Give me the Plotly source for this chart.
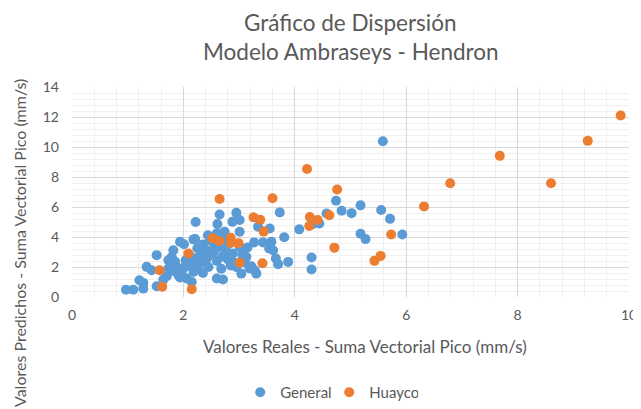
import plotly.graph_objects as go

# ---- data ----
general_x = [5.58, 5.18, 5.02, 5.55, 5.71, 5.18, 5.27, 5.93,
             4.74, 4.84, 4.57, 4.44, 4.32, 4.08, 4.30, 4.30,
             3.73, 3.81, 3.34, 3.55, 3.58, 3.61, 3.66, 3.70, 3.88,
             3.27, 3.43, 3.54, 3.08, 3.28, 3.19, 3.04, 3.31, 3.22, 3.06, 3.13,
             3.01, 3.01, 2.95, 2.88, 2.65, 2.61, 2.22, 2.74, 2.21, 2.60, 2.44, 2.48, 3.01,
             2.68, 2.60, 2.71, 2.89, 2.53, 2.42, 2.33, 2.18, 2.06, 2.15, 1.91, 1.94, 1.82,
             2.30, 2.42, 2.65, 2.77, 2.89,
             0.97, 1.10, 1.28, 1.21, 1.28, 1.34, 1.43, 1.52, 1.52, 1.64, 1.70, 1.79, 1.73,
             1.79, 1.94, 1.97, 1.94, 2.03, 2.04, 2.15, 2.01, 2.18, 1.82, 1.85, 1.73, 2.18,
             2.25, 2.35, 2.45, 2.55, 2.70, 2.80, 2.85, 2.95, 2.25, 2.35, 2.45, 2.10, 2.25,
             2.35, 2.55, 2.70, 2.80, 3.10, 3.15, 2.60]
general_y = [10.38, 6.11, 5.59, 5.80, 5.21, 4.22, 3.86, 4.17,
             6.42, 5.75, 5.57, 4.90, 4.86, 4.51, 2.63, 1.83,
             5.64, 3.98, 4.68, 4.57, 3.68, 3.12, 2.57, 2.19, 2.34,
             3.64, 3.64, 3.23, 3.01, 1.78, 1.90, 1.56, 1.56, 2.05, 2.79, 2.67,
             4.35, 5.13, 5.61, 5.01, 5.50, 4.86, 5.00, 4.35, 3.86, 4.24, 4.12, 3.79, 3.34,
             1.88, 1.23, 1.17, 2.34, 2.94, 3.12, 2.90, 2.34, 1.23, 1.00, 1.45, 1.90, 2.45,
             2.23, 2.57, 3.34, 3.01, 2.90,
             0.49, 0.49, 0.56, 1.12, 0.94, 2.01, 1.78, 2.79, 0.72, 1.16, 1.38, 2.67, 1.90,
             1.74, 3.68, 1.67, 1.30, 2.01, 2.45, 2.63, 3.52, 1.67, 3.12, 2.34, 2.45, 3.84,
             2.60, 2.45, 2.75, 3.05, 2.70, 2.50, 2.10, 2.00, 1.90, 1.60, 2.00, 2.15, 3.25,
             3.50, 3.55, 3.95, 3.50, 2.30, 3.30, 2.40]

huayco_x = [9.85, 9.26, 7.68, 6.79, 8.60, 6.32, 5.73, 5.43, 5.54,
            4.22, 4.76, 3.60, 2.65, 4.27, 4.26, 4.41, 4.62, 4.71,
            3.26, 3.38, 3.44, 3.42, 3.01, 2.52, 2.64, 2.85, 2.85, 2.99,
            2.09, 1.57, 1.62, 2.15]
huayco_y = [12.10, 10.41, 9.41, 7.58, 7.58, 6.04, 4.17, 2.41, 2.74,
            8.53, 7.17, 6.58, 6.53, 5.33, 4.73, 5.13, 5.45, 3.29,
            5.31, 5.15, 4.36, 2.25, 2.28, 3.92, 3.74, 3.95, 3.61, 3.59,
            2.90, 1.78, 0.68, 0.52]

x_ticks = [0, 2, 4, 6, 8, 10]
y_ticks = [0, 2, 4, 6, 8, 10, 12, 14]

title_lines = ["Gráfico de Dispersión", "Modelo Ambraseys - Hendron"]
x_title = "Valores Reales - Suma Vectorial Pico (mm/s)"
y_title = "Valores Predichos - Suma Vectorial Pico (mm/s)"

FONT = "Lato"
GRAY = "#595959"

fig = go.Figure()
fig.add_trace(go.Scatter(x=general_x, y=general_y, mode="markers", name="General",
                         marker=dict(color="#5B9BD5", size=10, line=dict(width=0))))
fig.add_trace(go.Scatter(x=huayco_x, y=huayco_y, mode="markers", name="Huayco",
                         marker=dict(color="#ED7D31", size=10, line=dict(width=0))))

axis_common = dict(showline=False, zeroline=False, ticks="", automargin=False,
                   gridcolor="#D9D9D9", gridwidth=1,
                   minor=dict(showgrid=True, gridcolor="#F0F0F0", gridwidth=1, dtick=0.4),
                   tickfont=dict(family=FONT, size=14, color=GRAY))

# the page has an 8 px body margin, so the figure is 8 px smaller and shifted
fig.update_layout(
    width=633, height=401,
    margin=dict(l=64, r=12, t=79, b=112, autoexpand=False),
    paper_bgcolor="white", plot_bgcolor="white",
    font=dict(family=FONT, color=GRAY),
    showlegend=True,
    legend=dict(orientation="h", x=0.302, xanchor="left", y=-0.455, yanchor="middle",
                font=dict(family=FONT, size=15, color=GRAY),
                itemwidth=30, entrywidth=44, entrywidthmode="pixels",
                tracegroupgap=0),
    xaxis=dict(range=[0, 10], tickvals=x_ticks, ticktext=[str(v) for v in x_ticks],
               ticklabelstandoff=8, **axis_common),
    yaxis=dict(range=[0, 14], tickvals=y_ticks, ticktext=[str(v) for v in y_ticks],
               ticklabelstandoff=12, **axis_common),
)

# title, one annotation per line
for i, line in enumerate(title_lines):
    fig.add_annotation(text=line, xref="paper", yref="paper",
                       x=0.5, xanchor="center", y=1.0, yanchor="middle",
                       yshift=65 - 29 * i, borderpad=0,
                       showarrow=False, align="center",
                       font=dict(family=FONT, size=22.5, color=GRAY))
fig.add_annotation(text=x_title, xref="paper", yref="paper",
                   x=0.5, xanchor="center", xshift=14, y=0, yanchor="middle", yshift=-49,
                   showarrow=False, font=dict(family=FONT, size=17, color=GRAY))
fig.add_annotation(text=y_title, xref="paper", yref="paper",
                   x=0, xanchor="center", xshift=-53, y=0.5, yanchor="middle", yshift=-51,
                   textangle=-90, showarrow=False, borderpad=0,
                   font=dict(family=FONT, size=16, color=GRAY))

fig.write_html("out.html")
